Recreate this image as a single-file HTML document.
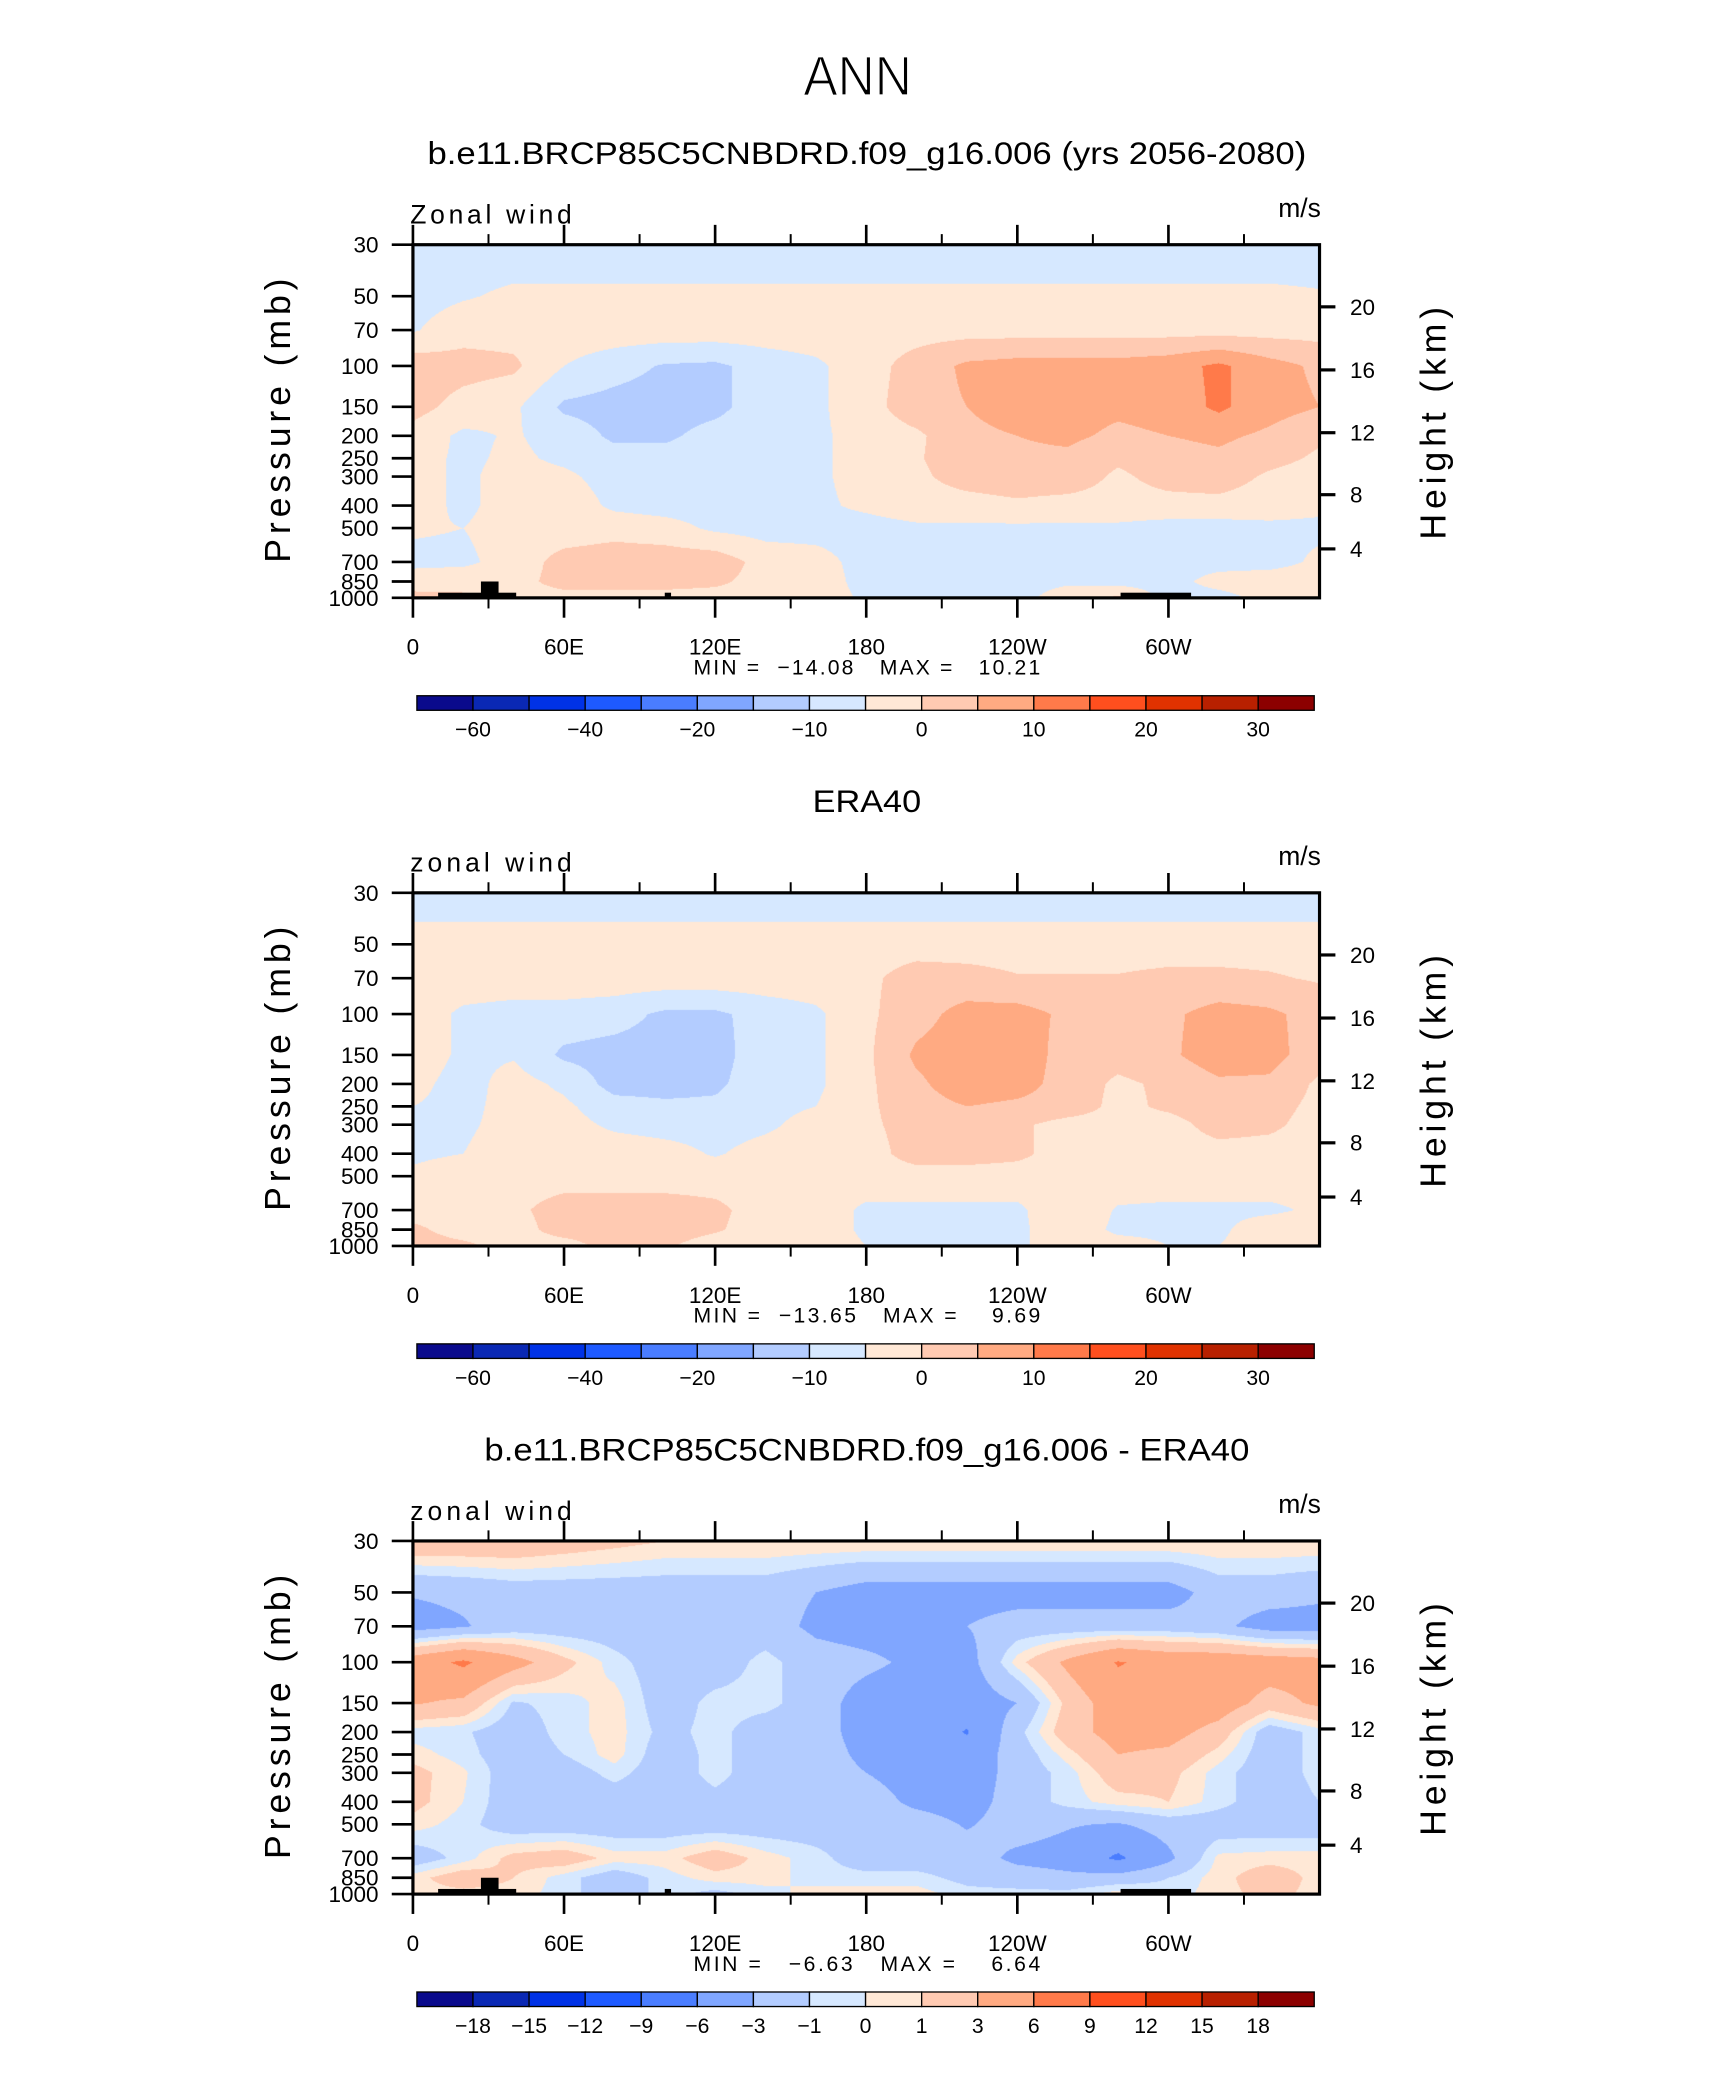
<!DOCTYPE html>
<html><head><meta charset="utf-8"><style>
html,body{margin:0;padding:0;background:#fff;}
#root{position:absolute;left:0;top:0;width:1300px;height:1568px;transform-origin:0 0;transform:scale(1.3235,1.322704);overflow:hidden;}
canvas{position:absolute;}
svg{position:absolute;left:0;top:0;}
text{font-family:"Liberation Sans",sans-serif;fill:#000;}
</style></head><body>
<div id="root">
<canvas id="c0" width="901" height="353" style="left:312px;top:185px;width:685px;height:267px"></canvas>
<canvas id="c1" width="901" height="353" style="left:312px;top:675px;width:685px;height:267px"></canvas>
<canvas id="c2" width="901" height="353" style="left:312px;top:1165px;width:685px;height:267px"></canvas>
<svg id="ov" width="1300" height="1568" viewBox="0 0 1300 1568">
<text x="648" y="72" font-size="42" text-anchor="middle" textLength="82" lengthAdjust="spacingAndGlyphs" style="font-weight:300" fill="#000" stroke="#fff" stroke-width="1">ANN</text>
</svg>
</div>
<script>
// ---------- data ----------
const lons = [0,20,40,60,80,100,120,140,160,180,200,220,240,260,280,300,320,340,360];
const plevs = [30,50,70,100,150,200,250,300,400,500,700,850,1000];
const fullLevels = [-60,-50,-40,-30,-20,-15,-10,-5,0,5,10,15,20,25,30];
const diffLevels = [-18,-15,-12,-9,-6,-3,-1,0,1,3,6,9,12,15,18];
const fullLabels = ["-60","-40","-20","-10","0","10","20","30"];
const fullLabelIdx = [0,2,4,6,8,10,12,14];
const diffLabels = ["-18","-15","-12","-9","-6","-3","-1","0","1","3","6","9","12","15","18"];
const diffLabelIdx = [0,1,2,3,4,5,6,7,8,9,10,11,12,13,14];
const colors = ["#0a0a8c","#0a28b4","#0032e6","#1e5aff","#4a7dff","#80a6ff","#b3ccff","#d6e8ff","#ffe8d6","#ffcab2","#ffaa82","#ff7a4a","#ff4f1e","#e03200","#b82000","#8c0000"];
const lonTicks = [0,60,120,180,240,300];
const lonTickLabels = ["0","60E","120E","180","120W","60W"];
const lonMinor = [30,90,150,210,270,330];
const presTicks = [30,50,70,100,150,200,250,300,400,500,700,850,1000];
const heightKm = [4,8,12,16,20];
const heightP = [615,359,194,104,55.6];
// terrain blocks: [lonStart, lonEnd, pressureTop]
const terrainBlocks = [[10,41,950],[27,34,850],[100,102.5,950],[281,309,950]];

const modelU = [
[-8,-8,-8,-8,-8,-8,-8,-8,-8,-8,-8,-8,-8,-8,-8,-8,-8,-8,-8],
[-7,-5.5,-4,-4,-4,-4,-4,-4,-4,-4,-4,-4,-4,-4,-4,-4,-4,-4,-4.5],
[-5.5,-2,-2,-2,-2,-2,-2,-2,-2,-2,-2,-2,-2,-2,-2,-2,-2,-2,-2],
[3,2,1,-5,-8,-10.5,-11,-8,-6,-2,2,6,7,7,7,8,11,7,4],
[2,-2,-4,-11,-12,-12.5,-11.5,-7,-6,-2,3,5,7,7,6,7,11,7,5],
[-2,-6,-4.5,-7,-11,-11,-8,-7,-6,-3,-1,4,5,6,4,5,6,4,1],
[-3,-6,-4,-6,-8,-8,-7.5,-7,-6,-3,-0.5,3,4,4,1,3,4,2,-1],
[-3,-6,-3,-4,-7,-7,-7,-7,-6,-3,-1,2,3,3,-1,2,3,-1,-3],
[-3,-6,-3,-2,-6,-7,-7,-7,-6,-4,-2,-2,-1,-2,-2,-2,-2,-3,-4],
[-4.5,-5,-3,-3,-2,-3,-6,-7,-7,-7,-6,-6,-6,-6,-6,-7,-7,-6,-6],
[-6,-6,-3,2,3,3,3,-2,-3,-7,-7,-7,-7,-7,-7,-7,-7,-7,-4],
[-3,-2,-2,2,2,2,1,-2,-2,-7,-7,-7,-7,-6,-7,-7,-3,-2,-2],
[2,1,-2,-2,-2,-2,-2,-2,-2,-6,-7,-7,-7,-2,1,-7,-7,-3,-2]];

const eraU = [
[-9,-9,-9,-9,-9,-9,-9,-9,-9,-9,-9,-9,-9,-9,-9,-9,-9,-9,-9],
[-2,-2,-2,-2,-2,-2,-2,-2,-2,-2,-2,-2,-2,-2,-2,-2,-2,-2,-2],
[-2,-2,-2,-2,-2,-2,-2,-2,-2,-1,2,1.5,0.3,0.3,0.3,1,1,0.5,-0.5],
[-2,-6,-7,-7,-8,-11,-11,-8,-6,-1,3,7,7,4,3,4,7,6,3],
[-2,-6,-5.5,-11,-12,-12,-12,-7,-6,-1,6,8,8,3,2,4,8,7,2],
[-3.5,-7,-3,-6,-12,-12,-11,-7,-6,-1,4,8,7,3,-1,1,4,4,-1],
[-5,-6.5,-3,-4,-8,-9,-9,-6.5,-5,-1,3,5,4,3,-1.5,1,3,2,-1.5],
[-6,-6,-3,-3,-6,-7,-7,-6,-3,-1,2,3,1,-2,-2,-2,2,1,-2],
[-6,-5,-2,-2,-2,-3,-5.5,-3,-2,-2,2,2,1,-2,-2,-2,-2,-2,-2],
[-4,-2,-2,-2,-2,-2,-2,-2,-2,-2,-2,-2,-2,-2,-2,-2,-2,-2,-3],
[-2,-2,-1,2,2,2,1,-2,-2,-6,-6,-6,-6,-1,-5.5,-6,-6,-6,-4],
[1,-2,-2,2,2,2,0.5,-2,-2,-6,-6,-6,-6,-2,-6,-6,-6,-2,-2],
[2,1,-2,-2,2,0.5,-2,-2,-2,-5,-6,-6,-6,-2,-3,-5,-5,-2,-2]];

const diffU = [
[2.5,2.5,2.5,2,1.5,1,1,1,1,1,1,1,1,1,1,1,1,1,1],
[-2.8,-2.5,-2,-2,-2,-2,-2,-2,-3,-4,-4,-4,-4,-4,-4,-4,-2,-2,-2.5],
[-4,-3.2,-2,-2,-2,-2,-2,-2,-3.5,-4,-4,-3,-2,-2,-2,-2,-2.5,-4,-4],
[4.5,6.5,4,1.5,-0.5,-2,-2,-0.5,-2,-2.5,-3.5,-4,0.5,3.5,6.2,5,5,4.5,4],
[3.2,2.5,-1.2,-0.5,0.5,-2,-0.5,-0.5,-2,-4,-4.5,-4.5,-3,1.5,4.5,5,4.5,2,3.5],
[-0.5,-0.8,-2,-0.5,0.5,-1.5,-0.5,-2,-2,-4,-4.2,-6.2,-1.5,2,4,4,2,-2,-0.5],
[0.5,-0.5,-2,-1,0.5,-2,-0.5,-2,-2,-3.5,-4,-4.5,-2,0.5,3,2.5,0.5,-2,-0.5],
[1.5,0.2,-2,-2,-0.5,-2,-0.5,-2,-2,-3,-4,-4.5,-2,-0.5,2,1.5,-0.5,-2,-0.5],
[1.5,0,-2,-2,-2,-2,-1.5,-2,-2,-2,-3.5,-4,-2,-0.5,0.5,1,-0.5,-2,-1],
[0.5,-0.5,-2,-2,-2,-2,-2,-2,-2,-2,-2,-3.2,-2,-2.8,-3.2,-2,-2,-2,-2],
[-2,-0.5,1.5,2,0.5,0.5,2,0.5,-0.5,-2,-2,-2,-3.5,-4,-6.5,-3.5,0.3,0.5,0.5],
[0.5,2,1,-0.5,-2,-0.5,0.5,0.5,-0.5,-0.5,-0.5,-1.5,-2,-2.5,-2,-1,0.5,2,0.5],
[0.5,0.5,0.5,-0.5,-2,-0.5,-1.5,-0.5,0.5,0.5,0.5,-0.5,-0.5,-0.5,0.5,-0.5,0.5,1.5,0.5]];

// ---------- geometry ----------
const PX0 = 312, PW = 685, PH = 267;
const panelTops = [185, 675, 1165];
const lnRange = Math.log(1000/30);
function xOf(lon){ return PX0 + lon/360*PW; }
function yOf(p, top){ return top + Math.log(p/30)/lnRange*PH; }

function colorIndex(v, levels){ let k=0; while(k<levels.length && v>=levels[k]) k++; return k; }
function hexRgb(h){ return [parseInt(h.substr(1,2),16),parseInt(h.substr(3,2),16),parseInt(h.substr(5,2),16)]; }
const rgb = colors.map(hexRgb);

function drawField(cv, data, levels){
  const ctx = cv.getContext('2d');
  const W = cv.width, H = cv.height;
  const img = ctx.createImageData(W,H);
  const lp = plevs.map(p=>Math.log(p));
  for(let py=0; py<H; py++){
    const l = Math.log(30) + (py+0.5)/H*lnRange;
    let i=0; while(i<plevs.length-2 && l>lp[i+1]) i++;
    const t = Math.min(1,Math.max(0,(l-lp[i])/(lp[i+1]-lp[i])));
    for(let px=0; px<W; px++){
      const lon = (px+0.5)/W*360;
      let j = Math.min(lons.length-2, Math.floor(lon/20));
      const s = (lon - lons[j])/20;
      const v = (1-t)*((1-s)*data[i][j]+s*data[i][j+1]) + t*((1-s)*data[i+1][j]+s*data[i+1][j+1]);
      const c = rgb[colorIndex(v, levels)];
      const o = (py*W+px)*4;
      img.data[o]=c[0]; img.data[o+1]=c[1]; img.data[o+2]=c[2]; img.data[o+3]=255;
    }
  }
  ctx.putImageData(img,0,0);
}
drawField(document.getElementById('c0'), modelU, fullLevels);
drawField(document.getElementById('c1'), eraU, fullLevels);
drawField(document.getElementById('c2'), diffU, diffLevels);

// ---------- overlay ----------
const NS = "http://www.w3.org/2000/svg";
const svg = document.getElementById('ov');
function mk(tag, attrs, parent){
  const e = document.createElementNS(NS, tag);
  for(const k in attrs) e.setAttribute(k, attrs[k]);
  (parent||svg).appendChild(e);
  return e;
}
function txt(x,y,s,size,anchor,parent){
  const e = mk('text',{x:x,y:y,'font-size':size,'text-anchor':anchor||'start'},parent);
  e.textContent = s; return e;
}

const subtitles = ["b.e11.BRCP85C5CNBDRD.f09_g16.006 (yrs 2056-2080)","ERA40","b.e11.BRCP85C5CNBDRD.f09_g16.006 - ERA40"];
const subWidths = [664, 82, 578];
const varNames = ["Zonal wind","zonal wind","zonal wind"];
const minMax = ["MIN =  \u221214.08   MAX =   10.21","MIN =  \u221213.65   MAX =    9.69","MIN =   \u22126.63   MAX =    6.64"];
const panelNames = ["model","era40","difference"];

panelTops.forEach((top, pi)=>{
  const g = mk('g',{});
  
  
  const st = txt(655, top-61, subtitles[pi], 24, 'middle', g);
  st.setAttribute('textLength', subWidths[pi]);
  st.setAttribute('lengthAdjust','spacingAndGlyphs');
  
  
  const vn = txt(310, top-16, varNames[pi], 20, 'start', g);
  vn.setAttribute('textLength', 122);
  
  
  const un = txt(998, top-21, "m/s", 20, 'end', g);
  
  

  if(pi!==1){
    terrainBlocks.forEach(b=>{
      const r = mk('rect',{x:xOf(b[0]),y:yOf(b[2],top),width:xOf(b[1])-xOf(b[0]),height:yOf(1000,top)-yOf(b[2],top),fill:'#000'},g);
      
      
    });
  }
  const fr = mk('rect',{x:PX0,y:top,width:PW,height:PH,fill:'none',stroke:'#000','stroke-width':2.4},g);
  
  
  lonTicks.forEach((lon,k)=>{
    const x = xOf(lon);
    mk('line',{x1:x,y1:top,x2:x,y2:top-15,stroke:'#000','stroke-width':2},g);
    mk('line',{x1:x,y1:top+PH,x2:x,y2:top+PH+15,stroke:'#000','stroke-width':2},g);
    const t = txt(x, top+PH+43, lonTickLabels[k], 17, 'middle', g);
    
    
  });
  lonMinor.forEach(lon=>{
    const x = xOf(lon);
    mk('line',{x1:x,y1:top,x2:x,y2:top-8,stroke:'#000','stroke-width':1.5},g);
    mk('line',{x1:x,y1:top+PH,x2:x,y2:top+PH+8,stroke:'#000','stroke-width':1.5},g);
  });
  presTicks.forEach(p=>{
    const y = yOf(p,top);
    mk('line',{x1:PX0,y1:y,x2:PX0-16,y2:y,stroke:'#000','stroke-width':2},g);
    const t = txt(286, y+6, String(p), 17, 'end', g);
    
    
  });
  heightP.forEach((p,k)=>{
    const y = yOf(p,top);
    mk('line',{x1:PX0+PW,y1:y,x2:PX0+PW+12,y2:y,stroke:'#000','stroke-width':2.4},g);
    const t = txt(1020, y+6, String(heightKm[k]), 17, 'start', g);
    
    
  });
  const yt = txt(0,0,"Pressure  (mb)",27,'middle',g);
  yt.setAttribute('transform','translate(219,'+(top+133)+') rotate(-90)');
  yt.setAttribute('textLength', 215);
  
  
  const ht = txt(0,0,"Height  (km)",27,'middle',g);
  ht.setAttribute('transform','translate(1092,'+(top+135)+') rotate(-90)');
  ht.setAttribute('textLength', 176);
  
  
  const mm = txt(655, top+PH+58, minMax[pi], 16, 'middle', g);
  mm.setAttribute('xml:space','preserve');
  mm.style.whiteSpace='pre';
  mm.setAttribute('textLength', 262);
  
  

  const cbTop = top+341, cbX = 315, cbW = 678, bw = cbW/16;
  colors.forEach((c,k)=>{
    const r = mk('rect',{x:cbX+k*bw,y:cbTop,width:bw,height:11,fill:c,stroke:'#000','stroke-width':1},g);
    
    
  });
  const labs = pi===2 ? diffLabels : fullLabels;
  const idx = pi===2 ? diffLabelIdx : fullLabelIdx;
  labs.forEach((s,k)=>{
    const t = txt(cbX+(idx[k]+1)*bw, cbTop+31, s.replace('-','\u2212'), 16, 'middle', g);
    
    
  });
});
</script>
</body></html>
